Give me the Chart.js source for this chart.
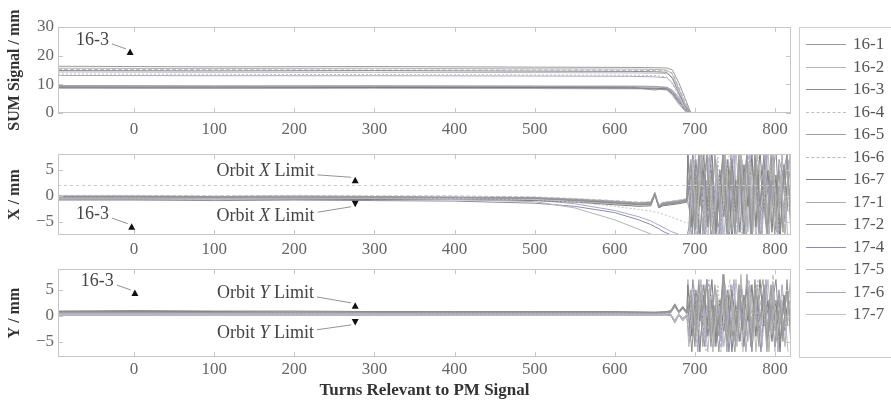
<!DOCTYPE html>
<html>
<head>
<meta charset="utf-8">
<script src="https://cdn.jsdelivr.net/npm/chart.js@4/dist/chart.umd.min.js"></script>
<style>
  body { margin: 0; background: #fff; }
  #page { position: relative; width: 891px; height: 404px; overflow: hidden; }
  .panel { position: absolute; left: 0; width: 800px; }
  #legend { position: absolute; left: 799px; top: 27px; width: 110px; height: 331px;
            border: 1px solid #cfcfcf; box-sizing: border-box; font: 17px "Liberation Serif", serif; color: #555; }
  .item { position: absolute; left: 0; width: 105px; height: 20px; white-space: nowrap; }
  .item span.line { position: absolute; left: 6px; top: 10px; width: 40px; border-top: 1px solid #aaa; }
  .item span.txt { position: absolute; left: 53px; top: 0; line-height: 20px; }
</style>
</head>
<body>
<div id="page">
  <div class="panel" style="top:0;height:140px"><canvas id="sum"></canvas></div>
  <div class="panel" style="top:140px;height:125px"><canvas id="posx"></canvas></div>
  <div class="panel" style="top:255px;height:149px"><canvas id="posy"></canvas></div>
  <div id="legend"></div>
</div>
<script>
// ---- data ----
var seriesNames = ['16-1','16-2','16-3','16-4','16-5','16-6','16-7','17-1','17-2','17-4','17-5','17-6','17-7'];
var seriesColors = ['#9a9a9a','#b4b4b4','#8c8c8c','#c0c0c0','#a0a0a0','#b8b8cc','#7e7e7e','#a8a8c4','#979797','#8c8cae','#bababa','#a4a4bc','#c2c2c2'];
var seriesDash = [[],[],[],[2,2],[],[4,2],[],[],[],[],[],[],[]];

var sumTurns = [-95, 100, 300, 500, 620, 650, 665, 672, 680, 688, 695, 820];
var sumValues = [
  [16.3,16.1,16.2,16.0,15.9,15.8,15.7,15.0,10.5,5.0,0,0],
  [15.6,15.5,15.6,15.4,15.3,15.2,15.0,13.5,8.5,3.0,0,0],
  [14.8,14.7,14.8,14.6,14.5,14.4,14.2,12.0,7.0,2.5,0,0],
  [13.6,13.5,13.4,13.3,13.2,13.1,12.6,10.0,6.0,1.5,0,0],
  [9.4,9.3,9.4,9.3,9.2,9.1,8.8,7.5,5.0,1.0,0,0],
  [15.2,15.1,15.0,15.0,14.9,14.8,14.7,14.0,9.0,4.0,0,0],
  [9.0,9.0,8.9,8.9,8.8,8.7,8.4,7.0,4.0,1.5,0,0],
  [13.1,13.0,13.0,12.9,12.8,12.6,12.3,10.5,6.5,2.0,0,0],
  [9.2,9.1,9.2,9.1,9.0,8.0,8.6,7.5,4.5,1.0,0,0],
  [8.8,8.7,8.8,8.7,8.6,8.5,8.2,6.5,3.5,0.8,0,0],
  [14.3,14.2,14.2,14.1,14.0,13.9,13.8,12.5,8.0,3.0,0,0],
  [9.6,9.5,9.5,9.4,9.4,9.3,9.0,8.0,5.5,2.0,0,0],
  [8.6,8.5,8.6,8.5,8.4,8.3,8.0,6.0,3.0,0.5,0,0]
];

// four interleaved turn grids for the unstable part after beam loss
var chaosTurnsA = [695,700,705,710,715,720,725,730,735,740,745,750,755,760,765,770,775,780,785,790,795,800,805,810,815,820];
var chaosTurnsB = [692.5,697.5,702.5,707.5,712.5,717.5,722.5,727.5,732.5,737.5,742.5,747.5,752.5,757.5,762.5,767.5,772.5,777.5,782.5,787.5,792.5,797.5,802.5,807.5,812.5,817.5];
var chaosTurnsC = [691.25,696.25,701.25,706.25,711.25,716.25,721.25,726.25,731.25,736.25,741.25,746.25,751.25,756.25,761.25,766.25,771.25,776.25,781.25,786.25,791.25,796.25,801.25,806.25,811.25,816.25];
var chaosTurnsD = [693.75,698.75,703.75,708.75,713.75,718.75,723.75,728.75,733.75,738.75,743.75,748.75,753.75,758.75,763.75,768.75,773.75,778.75,783.75,788.75,793.75,798.75,803.75,808.75,813.75,818.75];

var xFlatTurns = [-95, 0, 100, 200, 300, 400, 500, 550, 600, 630, 645, 650, 655, 660, 670, 680, 690];
var xFlatValues = [
  [-0.2,-0.2,-0.3,-0.2,-0.3,-0.3,-0.4,-0.7,-1.1,-1.4,-1.3,0.5,-2.0,-1.5,-1.3,-1.1,-0.9],
  [-0.5,-0.4,-0.5,-0.5,-0.5,-0.7,-1.1,-2.3,-4.6,-6.4,-7.3,-7.8,-8,-8,-8,-8,-8],
  [-0.1,-0.1,-0.2,-0.2,-0.2,-0.3,-0.4,-0.8,-1.3,-1.6,-1.5,0.4,-2.1,-1.6,-1.4,-1.2,-0.8],
  [-0.4,-0.4,-0.5,-0.4,-0.5,-0.5,-0.7,-1.2,-2.0,-2.6,-2.9,-3.1,-3.3,-3.5,-4.0,-4.6,-5.2],
  [-0.3,-0.3,-0.3,-0.3,-0.4,-0.4,-0.5,-0.8,-1.2,-1.5,-1.4,0.6,-1.9,-1.4,-1.2,-1.0,-0.7],
  [0.1,0.1,0.0,0.1,0.0,0.0,-0.2,-0.5,-0.9,-1.2,-1.1,0.7,-1.7,-1.2,-1.0,-0.8,-0.5],
  [-0.6,-0.6,-0.6,-0.6,-0.7,-0.7,-0.9,-1.2,-1.7,-2.0,-1.9,0.2,-2.3,-1.9,-1.7,-1.5,-1.2],
  [-0.3,-0.3,-0.4,-0.4,-0.4,-0.5,-0.8,-1.5,-2.8,-4.0,-4.8,-5.2,-5.6,-6.0,-6.8,-7.4,-8],
  [-0.2,-0.2,-0.2,-0.3,-0.3,-0.3,-0.5,-0.9,-1.4,-1.7,-1.6,0.3,-2.2,-1.7,-1.5,-1.3,-1.0],
  [-0.8,-0.8,-0.9,-0.8,-0.9,-1.0,-1.4,-2.0,-3.2,-4.6,-5.5,-5.9,-6.3,-6.8,-7.5,-8,-8],
  [-0.4,-0.4,-0.4,-0.5,-0.5,-0.5,-0.6,-0.9,-1.3,-1.5,-1.4,0.4,-1.9,-1.5,-1.3,-1.1,-0.8],
  [0.0,0.0,-0.1,0.0,-0.1,-0.2,-0.3,-0.6,-1.0,-1.3,-1.2,0.6,-1.8,-1.3,-1.1,-0.9,-0.6],
  [-0.5,-0.5,-0.5,-0.6,-0.6,-0.6,-0.8,-1.1,-1.5,-1.8,-1.7,0.3,-2.1,-1.8,-1.6,-1.3,-1.0]
];
var xChaosValues = [
  [6,-7,8,2,7,-8,-3,-6,9,-7,5,-8,7,1,8,-9,6,-5,-1,-7,3,-8,7,4,8,-5],
  [-8,5,-6,9,4,7,-9,6,-3,8,-7,-2,-8,9,-5,6,-7,8,3,5,-9,7,-6,4,-8,6],
  [3,-9,7,-2,8,-6,5,-8,2,9,-5,7,-3,6,-8,4,-9,7,-2,8,-6,3,9,-7,5,-3],
  [-5,8,-3,6,-9,4,-7,8,-6,3,9,-4,6,-8,2,7,-5,9,-8,4,6,-3,-8,7,-4,9],
  [7,-4,9,-8,3,-6,8,-2,6,-9,4,-7,8,-5,9,-3,5,-8,6,-9,7,-4,2,-6,8,-7],
  [-2,6,-8,4,-7,9,-3,7,-9,5,-2,8,-6,3,-7,9,-4,2,-6,7,-8,9,-5,3,-7,4],
  [8,-6,4,-9,6,-3,9,-7,5,-4,7,-9,3,-7,6,-2,8,-6,9,-3,5,-7,4,-9,6,-2],
  [-7,3,-5,7,-2,8,-6,4,-8,6,-3,9,-7,5,-9,3,-2,6,-7,8,-4,6,-9,5,-3,8],
  [4,-8,6,-3,9,-5,2,-9,7,-2,8,-6,4,-3,7,-8,9,-4,3,-6,8,-2,5,-7,9,-6],
  [-6,9,-2,5,-8,3,-4,6,-7,8,-9,2,-5,8,-3,5,-6,3,-9,6,-2,8,-7,2,-5,7],
  [9,-3,5,-7,2,-9,6,-5,4,-8,3,-6,9,-2,4,-7,7,-9,5,-2,9,-5,3,-8,4,-9],
  [-3,7,-9,8,-6,5,-8,3,-5,7,-6,5,-2,7,-6,8,-3,4,-8,9,-5,4,-7,8,-2,5],
  [5,-5,3,-6,8,-4,7,-3,8,-5,6,-3,8,-9,5,-4,7,-7,4,-5,7,-9,6,-4,7,-8]
];
var xLimitTurns = [-95, 820];
var xLimitValues = [2, 2];

var yFlatTurns = [-95, 0, 100, 200, 300, 400, 500, 600, 650, 665, 670, 675, 680, 685, 690];
var yFlatValues = [
  [0.7,0.7,0.6,0.7,0.6,0.6,0.6,0.6,0.5,0.6,0.8,2.0,0.7,1.6,0.5],
  [0.4,0.4,0.4,0.3,0.4,0.3,0.3,0.3,0.3,0.3,0.2,-1.0,0.3,-0.6,0.2],
  [0.9,1.0,0.9,0.9,0.8,0.8,0.8,0.8,0.7,0.8,1.0,2.3,0.9,1.8,0.7],
  [0.5,0.5,0.5,0.5,0.5,0.4,0.4,0.4,0.4,0.4,0.3,-1.2,0.4,-0.8,0.3],
  [0.6,0.6,0.6,0.6,0.6,0.6,0.5,0.5,0.5,0.5,0.7,1.8,0.6,1.4,0.4],
  [0.2,0.2,0.2,0.2,0.2,0.2,0.2,0.2,0.2,0.2,0.1,-1.3,0.2,-0.9,0.1],
  [0.8,0.8,0.8,0.7,0.8,0.7,0.7,0.7,0.6,0.7,0.9,2.1,0.8,1.7,0.6],
  [0.3,0.3,0.3,0.3,0.3,0.3,0.3,0.3,0.3,0.3,0.2,-0.9,0.3,-0.5,0.2],
  [0.6,0.6,0.5,0.6,0.5,0.5,0.5,0.5,0.5,0.5,0.6,1.9,0.6,1.5,0.4],
  [0.1,0.1,0.1,0.1,0.1,0.1,0.1,0.1,0.1,0.1,0.0,-1.4,0.1,-1.0,0.0],
  [0.7,0.7,0.7,0.7,0.7,0.6,0.6,0.6,0.6,0.6,0.8,2.2,0.7,1.6,0.5],
  [0.4,0.4,0.4,0.4,0.4,0.4,0.4,0.4,0.4,0.4,0.3,-1.1,0.4,-0.7,0.3],
  [0.5,0.5,0.5,0.5,0.4,0.4,0.4,0.4,0.4,0.4,0.5,1.7,0.5,1.3,0.4]
];
var yChaosValues = [
  [4,-5,6,1,7,-6,2,-4,8,-5,-1,-7,5,-2,6,-6,4,3,7,-5,2,-6,5,-4,6,-3],
  [-6,3,-4,7,-2,5,-7,4,-1,6,-5,2,-6,8,-3,4,-5,6,-2,3,-7,5,-4,2,-6,4],
  [2,-7,5,-1,6,-4,3,-6,1,8,-3,5,-2,4,-6,2,-7,5,-1,6,-4,2,7,-5,3,-2],
  [-3,6,-2,4,-7,2,-5,6,-4,2,7,-3,4,-6,1,5,-3,7,-6,2,4,-2,-6,5,-3,7],
  [5,-2,7,-6,2,-4,6,-1,4,-7,3,-5,6,-3,8,-2,3,-6,4,-7,5,-3,1,-4,6,-5],
  [-1,4,-6,3,-5,7,-2,5,-7,3,-1,6,-4,2,-5,7,-3,1,-4,5,-6,8,-3,2,-5,3],
  [6,-4,3,-7,4,-2,7,-5,3,-3,5,-7,2,-5,4,-1,6,-4,7,-2,3,-5,3,-7,4,-1],
  [-5,2,-3,5,-1,6,-4,3,-6,4,-2,7,-5,3,-7,2,-1,4,-5,6,-3,4,-7,3,-2,6],
  [3,-6,4,-2,7,-3,1,-7,5,-1,6,-4,3,-2,5,-6,7,-3,2,-4,6,-1,3,-5,7,-4],
  [-4,7,-1,3,-6,2,-3,4,-5,6,-7,1,-3,6,-2,3,-4,2,-7,4,-1,6,-5,1,-3,5],
  [7,-2,3,-5,1,-7,4,-3,3,-6,2,-4,7,-1,3,-5,5,-7,3,-1,7,-3,2,-6,3,-7],
  [-2,5,-7,6,-4,3,-6,2,-3,5,-4,3,-1,5,-4,6,-2,3,-6,7,-3,3,-5,6,-1,3],
  [3,-3,2,-4,6,-3,5,-2,6,-3,4,-2,6,-7,3,-3,5,-5,3,-3,5,-7,4,-3,5,-6]
];

var sumTicks = [0, 10, 20, 30];
var posTicks = [-5, 0, 5];
var turnTicks = [0, 100, 200, 300, 400, 500, 600, 700, 800];

// ---- helpers ----
var SERIF = '"Liberation Serif", "Times New Roman", serif';
var chaosGrids = [chaosTurnsA, chaosTurnsB, chaosTurnsC, chaosTurnsD];

function toPoints( turns, values )
{
    return turns.map(function(t, i) { return { x: t, y: values[i] }; });
}

function lineSet( label, points, i )
{
    return {
        label: label,
        data: points,
        borderColor: seriesColors[i],
        borderDash: seriesDash[i],
        borderWidth: 1,
        pointRadius: 0,
        tension: 0
    };
}

function buildSimple( turns, valueSets )
{
    return valueSets.map(function(vals, i) { return lineSet(seriesNames[i], toPoints(turns, vals), i); });
}

// flat part + unstable part, BPMs spread over the shifted turn grids
function buildUnstable( flatTurns, flatSets, chaosSets )
{
    return flatSets.map(function(vals, i) {
        var ct = chaosGrids[i % 4];
        return lineSet(seriesNames[i], toPoints(flatTurns.concat(ct), vals.concat(chaosSets[i])), i);
    });
}

// frame box + inward tick marks, like the original plot
var frameTicks = {
    id: 'frameTicks',
    afterDraw: function(chart) {
        var ctx = chart.ctx, a = chart.chartArea, sx = chart.scales.x, sy = chart.scales.y;
        ctx.save();
        ctx.strokeStyle = '#c6c6c6';
        ctx.lineWidth = 1;
        ctx.strokeRect(Math.round(a.left) + 0.5, Math.round(a.top) + 0.5, Math.round(a.width) - 1, Math.round(a.height) - 1);
        ctx.beginPath();
        sx.ticks.forEach(function(t) {
            var p = Math.round(sx.getPixelForValue(t.value)) + 0.5;
            ctx.moveTo(p, a.top); ctx.lineTo(p, a.top + 5);
            ctx.moveTo(p, a.bottom); ctx.lineTo(p, a.bottom - 5);
        });
        sy.ticks.forEach(function(t) {
            var p = Math.round(sy.getPixelForValue(t.value)) + 0.5;
            ctx.moveTo(a.left, p); ctx.lineTo(a.left + 5, p);
            ctx.moveTo(a.right, p); ctx.lineTo(a.right - 5, p);
        });
        ctx.stroke();
        ctx.restore();
    }
};

// text labels with leader line and triangle marker, placed in data units
var notes = {
    id: 'notes',
    afterDraw: function(chart, args, opts) {
        var ctx = chart.ctx, sx = chart.scales.x, sy = chart.scales.y;
        (opts.items || []).forEach(function(n) {
            var tx = sx.getPixelForValue(n.tx), ty = sy.getPixelForValue(n.ty);
            var mx = sx.getPixelForValue(n.mx), my = sy.getPixelForValue(n.my);
            ctx.save();
            ctx.fillStyle = '#444';
            ctx.textBaseline = 'middle';
            var w = 0;
            n.parts.forEach(function(p) {
                ctx.font = (p.italic ? 'italic ' : '') + '18px ' + SERIF;
                w += ctx.measureText(p.t).width;
            });
            var x = tx - w / 2;
            n.parts.forEach(function(p) {
                ctx.font = (p.italic ? 'italic ' : '') + '18px ' + SERIF;
                ctx.fillText(p.t, x, ty);
                x += ctx.measureText(p.t).width;
            });
            var up = n.dir === 'up';
            var below = my > ty;
            ctx.strokeStyle = '#777';
            ctx.lineWidth = 0.8;
            ctx.beginPath();
            ctx.moveTo(tx + w / 2 + 3, ty + (below ? 4 : -4));
            ctx.lineTo(mx - 4, my + (below ? -3 : 3));
            ctx.stroke();
            ctx.fillStyle = '#111';
            ctx.beginPath();
            if (up) { ctx.moveTo(mx, my - 3.5); ctx.lineTo(mx - 3.5, my + 3); ctx.lineTo(mx + 3.5, my + 3); }
            else { ctx.moveTo(mx, my + 3.5); ctx.lineTo(mx - 3.5, my - 3); ctx.lineTo(mx + 3.5, my - 3); }
            ctx.closePath();
            ctx.fill();
            ctx.restore();
        });
    }
};

function minusSign( v ) { return String(v).replace('-', '\u2212'); }

function makeChart( id, datasets, yMin, yMax, yTicks, yTitle, padTop, xHeight, tickPad, xTitle, noteItems )
{
    return new Chart(document.getElementById(id).getContext('2d'), {
        type: 'line',
        data: { datasets: datasets },
        plugins: [frameTicks, notes],
        options: {
            animation: false,
            responsive: true,
            maintainAspectRatio: false,
            layout: { padding: { top: padTop, right: 9, left: 0, bottom: 0 } },
            plugins: { legend: { display: false }, tooltip: { enabled: false }, notes: { items: noteItems } },
            scales: {
                x: {
                    type: 'linear', min: -95, max: 820,
                    grid: { display: false, drawTicks: false }, border: { display: false },
                    afterBuildTicks: function(s) { s.ticks = turnTicks.map(function(v) { return { value: v }; }); },
                    afterFit: function(s) { s.height = xHeight; },
                    ticks: { color: '#666', padding: tickPad, maxRotation: 0, font: { family: SERIF, size: 17 } },
                    title: { display: !!xTitle, text: xTitle || '', color: '#333', padding: { top: 4, bottom: 3 },
                             font: { family: SERIF, size: 17, weight: 'bold' } }
                },
                y: {
                    min: yMin, max: yMax,
                    grid: { display: false, drawTicks: false }, border: { display: false },
                    afterBuildTicks: function(s) { s.ticks = yTicks.map(function(v) { return { value: v }; }); },
                    afterFit: function(s) { s.width = 58; },
                    ticks: { color: '#666', padding: 4, font: { family: SERIF, size: 17 },
                             callback: function(v) { return minusSign(v); } },
                    title: { display: true, text: yTitle, color: '#333', padding: { top: 5, bottom: 2 },
                             font: { family: SERIF, size: 16, weight: 'bold' } }
                }
            }
        }
    });
}

// ---- panels ----
var sumDatasets = buildSimple(sumTurns, sumValues);
var xDatasets = buildUnstable(xFlatTurns, xFlatValues, xChaosValues);
xDatasets.unshift({ label: 'limit', data: toPoints(xLimitTurns, xLimitValues), borderColor: '#c8c8c8',
                    borderDash: [3, 3], borderWidth: 1, pointRadius: 0 });
var yDatasets = buildUnstable(yFlatTurns, yFlatValues, yChaosValues);

makeChart('sum', sumDatasets, 0, 30, sumTicks, 'SUM Signal / mm', 27, 27, 6, null, [
    { parts: [{ t: '16-3' }], tx: -52, ty: 25.5, mx: -5, my: 21.3, dir: 'up' }
]);
makeChart('posx', xDatasets, -7.5, 8, posTicks, 'X / mm', 9, 30, 4, null, [
    { parts: [{ t: '16-3' }], tx: -52, ty: -3.5, mx: -3, my: -5.9, dir: 'up' },
    { parts: [{ t: 'Orbit ' }, { t: 'X', italic: true }, { t: ' Limit' }], tx: 164, ty: 4.8, mx: 276, my: 3.0, dir: 'up' },
    { parts: [{ t: 'Orbit ' }, { t: 'X', italic: true }, { t: ' Limit' }], tx: 164, ty: -3.9, mx: 276, my: -1.5, dir: 'down' }
]);
makeChart('posy', yDatasets, -8, 9, posTicks, 'Y / mm', 14, 47, 2, 'Turns Relevant to PM Signal', [
    { parts: [{ t: '16-3' }], tx: -46, ty: 6.7, mx: 1, my: 4.4, dir: 'up' },
    { parts: [{ t: 'Orbit ' }, { t: 'Y', italic: true }, { t: ' Limit' }], tx: 164, ty: 4.4, mx: 276, my: 1.9, dir: 'up' },
    { parts: [{ t: 'Orbit ' }, { t: 'Y', italic: true }, { t: ' Limit' }], tx: 164, ty: -3.5, mx: 276, my: -1.2, dir: 'down' }
]);

// ---- legend (shared by the three panels) ----
var legend = document.getElementById('legend');
seriesNames.forEach(function(name, i) {
    var row = document.createElement('div');
    row.className = 'item';
    row.style.top = (6 + i * 22.5) + 'px';
    var ln = document.createElement('span');
    ln.className = 'line';
    ln.style.borderTopColor = seriesColors[i];
    ln.style.borderTopStyle = seriesDash[i].length ? 'dashed' : 'solid';
    var tx = document.createElement('span');
    tx.className = 'txt';
    tx.textContent = name;
    row.appendChild(ln); row.appendChild(tx);
    legend.appendChild(row);
});
</script>
</body>
</html>
